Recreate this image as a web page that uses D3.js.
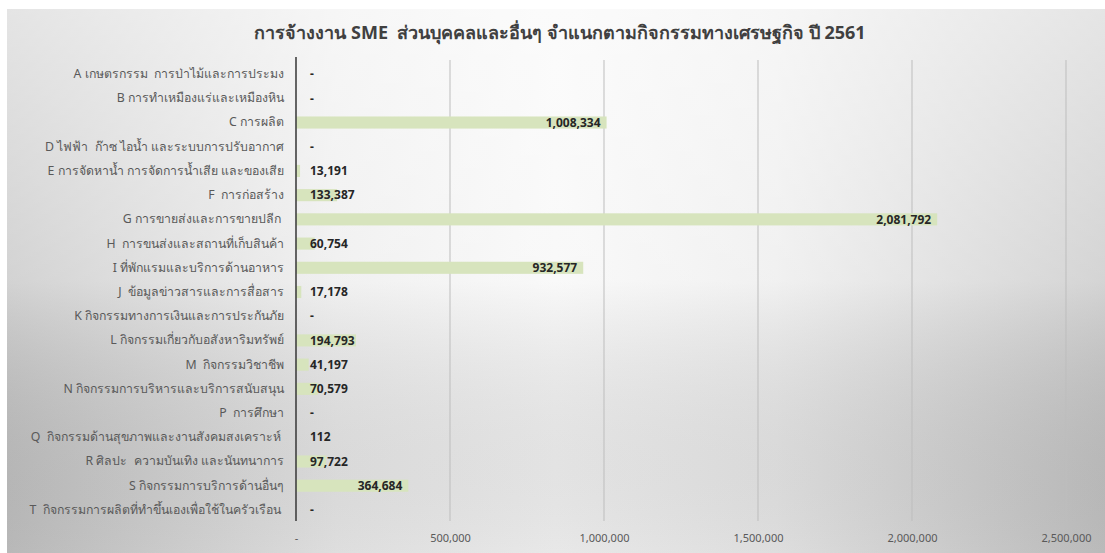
<!DOCTYPE html>
<html><head><meta charset="utf-8">
<script src="https://cdn.jsdelivr.net/npm/d3@7"></script>
<style>body{margin:0;background:#fff;}svg{display:block;}text{white-space:pre;}</style>
</head><body>
<svg id="c" width="1105" height="553"></svg>
<script>
const categories = [
 "A เกษตรกรรม  การป่าไม้และการประมง",
 "B การทำเหมืองแร่และเหมืองหิน",
 "C การผลิต",
 "D ไฟฟ้า  ก๊าซ ไอน้ำ และระบบการปรับอากาศ",
 "E การจัดหาน้ำ การจัดการน้ำเสีย และของเสีย",
 "F  การก่อสร้าง",
 "G การขายส่งและการขายปลีก ",
 "H  การขนส่งและสถานที่เก็บสินค้า",
 "I ที่พักแรมและบริการด้านอาหาร",
 "J  ข้อมูลข่าวสารและการสื่อสาร",
 "K กิจกรรมทางการเงินและการประกันภัย",
 "L กิจกรรมเกี่ยวกับอสังหาริมทรัพย์",
 "M  กิจกรรมวิชาชีพ",
 "N กิจกรรมการบริหารและบริการสนับสนุน",
 "P  การศึกษา",
 "Q  กิจกรรมด้านสุขภาพและงานสังคมสงเคราะห์ ",
 "R ศิลปะ  ความบันเทิง และนันทนาการ",
 "S กิจกรรมการบริการด้านอื่นๆ",
 "T  กิจกรรมการผลิตที่ทำขึ้นเองเพื่อใช้ในครัวเรือน "
];
const values = [0,0,1008334,0,13191,133387,2081792,60754,932577,17178,0,194793,41197,70579,0,112,97722,364684,0];
const tickValues = [0,500000,1000000,1500000,2000000,2500000];
const title = "การจ้างงาน SME  ส่วนบุคคลและอื่นๆ จำแนกตามกิจกรรมทางเศรษฐกิจ ปี 2561";

const svg = d3.select("#c");
const font = "Tahoma, 'Noto Sans', 'DejaVu Sans', sans-serif";
const defs = svg.append("defs");
const lg = defs.append("linearGradient").attr("id","bgh").attr("x1","0%").attr("x2","100%").attr("y1","0%").attr("y2","0%");
[[0,"#c4c4c4"],[0.3,"#ececec"],[0.5,"#f7f7f7"],[0.7,"#ececec"],[1,"#c6c6c6"]].forEach(s=>
  lg.append("stop").attr("offset",s[0]).attr("stop-color",s[1]));
const vg = defs.append("linearGradient").attr("id","bgv").attr("x1","0%").attr("x2","0%").attr("y1","0%").attr("y2","100%");
vg.append("stop").attr("offset",0).attr("stop-color","#ffffff").attr("stop-opacity",0.55);
vg.append("stop").attr("offset",0.5).attr("stop-color","#ffffff").attr("stop-opacity",0.25);
vg.append("stop").attr("offset",1).attr("stop-color","#000000").attr("stop-opacity",0.06);
svg.append("rect").attr("x",7).attr("y",9).attr("width",1098).attr("height",544).attr("fill","url(#bgh)");
svg.append("rect").attr("x",7).attr("y",9).attr("width",1098).attr("height",544).attr("fill","url(#bgv)");

const x0 = 296, x1 = 1066, yTop = 60, yBot = 521;
const x = d3.scaleLinear().domain([0,2500000]).range([x0,x1]);
const y = d3.scaleBand().domain(categories).range([yTop+2, yBot+1]).paddingInner(0.5).paddingOuter(0.25);

// gridlines
svg.append("g").selectAll("line").data(tickValues.slice(1)).join("line")
  .attr("x1",d=>x(d)).attr("x2",d=>x(d)).attr("y1",yTop).attr("y2",yBot)
  .attr("stroke","#bdbdbd").attr("stroke-width",1);

// bars
svg.append("g").selectAll("rect").data(values).join("rect")
  .attr("x",x0).attr("y",(d,i)=>y(categories[i]))
  .attr("width",d=>x(d)-x0).attr("height",y.bandwidth())
  .attr("fill","#d7e4bd");

// axis line
svg.append("line").attr("x1",x0).attr("x2",x0).attr("y1",yTop-3).attr("y2",yBot)
  .attr("stroke","#404040").attr("stroke-width",1.6);

// category labels
const yAxis = d3.axisLeft(y).tickSize(0).tickPadding(12);
const ya = svg.append("g").attr("transform",`translate(${x0},0)`).call(yAxis);
ya.select(".domain").remove();
ya.selectAll("text").attr("font-family",font).attr("font-size",12.3).attr("fill","#595959");

// x tick labels
const fmt = d => d===0 ? "-" : d3.format(",")(d);
const xAxis = d3.axisBottom(x).tickValues(tickValues).tickFormat(fmt).tickSize(0).tickPadding(13);
const xa = svg.append("g").attr("transform",`translate(0,${yBot})`).call(xAxis);
xa.select(".domain").remove();
xa.selectAll("text").attr("font-family",font).attr("font-size",11).attr("fill","#595959");

// value labels
const vl = svg.append("g").selectAll("text").data(values).join("text")
  .attr("y",(d,i)=>y(categories[i])+y.bandwidth()/2).attr("dy","0.35em")
  .attr("font-family",font).attr("font-size",12).attr("font-weight","bold").attr("fill","#262626")
  .text(d=>fmt(d));
vl.each(function(d){
  const w = this.getComputedTextLength();
  const end = x(d) - 6;
  const start = Math.max(x0+14, end - w);
  d3.select(this).attr("x", start);
});

svg.append("text").attr("x",560).attr("y",39).attr("text-anchor","middle")
  .attr("font-family",font).attr("font-size",18).attr("font-weight","bold").attr("fill","#404040")
  .text(title);
</script>
</body></html>
